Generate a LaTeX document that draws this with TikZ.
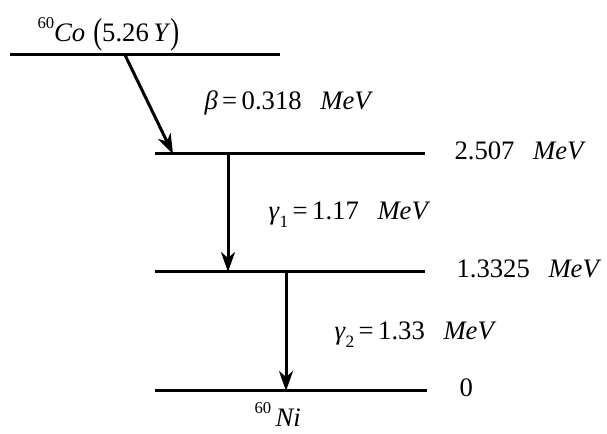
\documentclass[tikz,border=0pt]{standalone}
\usepackage{fontspec}
\setmainfont{Liberation Serif}
\usepackage{graphicx}
\usetikzlibrary{arrows.meta}

\newcommand{\iso}[1]{\raisebox{0.52em}{\fontsize{12.5}{13}\selectfont #1}}
\newcommand{\lowidx}[1]{\raisebox{-0.28em}{\fontsize{13}{13}\selectfont #1}}
\newcommand{\tallparen}[1]{\raisebox{-0.06em}{\scalebox{1}[1.35]{#1}}}
\newcommand{\mev}{\hspace{0.7em}\textit{MeV}}

\tikzset{every picture/.style={line width=2.25pt}}

\begin{document}
\begin{tikzpicture}[x=0.75pt,y=0.75pt,yscale=-1,xscale=1,
  decay/.style={line width=2.25pt, -{Stealth[length=15pt, width=10.5pt, inset=4.5pt]}},
  lbl/.style={anchor=base west, inner sep=0pt, font=\fontsize{20}{24}\selectfont}]

\useasboundingbox (0,0) rectangle (607,434);

%% ---------------- levels ----------------
\coordinate (coL) at (10,55);   \coordinate (coR) at (280,55);
\coordinate (e2L) at (155,154); \coordinate (e2R) at (425,154);
\coordinate (e1L) at (155,272); \coordinate (e1R) at (425,272);
\coordinate (g0L) at (155,391); \coordinate (g0R) at (427,391);

\draw (coL) -- (coR) ;
\draw (e2L) -- (e2R) ;
\draw (e1L) -- (e1R) ;
\draw (g0L) -- (g0R) ;

%% ---------------- transitions ----------------
\coordinate (betaA) at (125,55);  \coordinate (betaB) at (173,154);
\coordinate (gamA) at (228,154);  \coordinate (gamB) at (228,272);
\coordinate (gamC) at (286,272);  \coordinate (gamD) at (286,391);

\draw [decay] (betaA) -- (betaB) ;
\draw [decay] (gamA) -- (gamB) ;
\draw [decay] (gamC) -- (gamD) ;

%% ---------------- text ----------------
\node [lbl] (coName) at (36,42) {\iso{60}\textit{Co}\hspace{0.3em}\tallparen{(}5.26\,\textit{Y}\tallparen{)}};
\node [lbl] (betaTxt) at (203,110) {\textit{β}\,=\,0.318\mev};
\node [lbl] (gam1Txt) at (267,220) {\textit{γ}\lowidx{1}\,=\,1.17\mev};
\node [lbl] (gam2Txt) at (333,340) {\textit{γ}\lowidx{2}\,=\,1.33\mev};

\node [lbl] (e2Txt) at (453,160) {2.507\mev};
\node [lbl] (e1Txt) at (455,278) {1.3325\mev};
\node [lbl] (g0Txt) at (458,397) {0};
\node [lbl] (niName) at (253,427) {\iso{60}\,\textit{Ni}};

\end{tikzpicture}
\end{document}
